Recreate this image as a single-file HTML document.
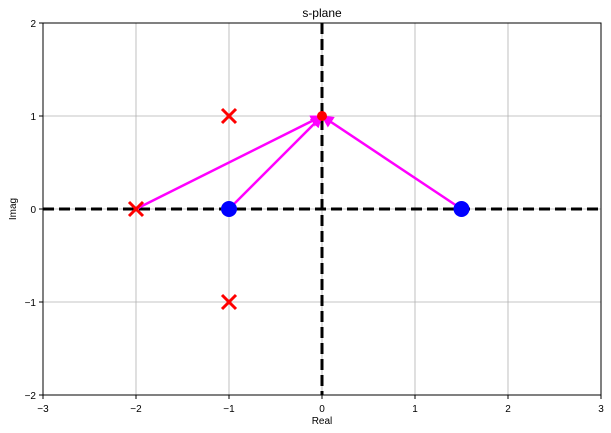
<!DOCTYPE html>
<html><head><meta charset="utf-8"><style>
body{margin:0;background:#fff;}
svg{display:block;font-family:"Liberation Sans",sans-serif;}
</style></head><body>
<svg id="c" width="611" height="433" xmlns="http://www.w3.org/2000/svg">
<defs><marker id="ah" viewBox="0 0 10 10" refX="9" refY="5" markerWidth="5" markerHeight="5" orient="auto"><path d="M0,0 L10,5 L0,10 z" fill="#ff00ff"/></marker></defs>
<g id="grid"></g>
<g id="plot"></g>
<g id="axes"></g>
</svg>
<script>
const xTicks=[-3,-2,-1,0,1,2,3];
const yTicks=[-2,-1,0,1,2];
const poleRe=[-1,-1,-2];
const poleIm=[1,-1,0];
const zeroRe=[-1,1.5];
const zeroIm=[0,0];
const testRe=[0];
const testIm=[1];
const L=43,R=601,T=23,B=395;
const sx=v=>L+(v+3)/6*(R-L);
const sy=v=>B-(v+2)/4*(B-T);
const fmt=v=>String(v).replace('-','\u2212');
const NS="http://www.w3.org/2000/svg";
function mk(p,t,a){const e=document.createElementNS(NS,t);for(const k in a)e.setAttribute(k,a[k]);p.appendChild(e);return e;}
const grid=document.getElementById('grid'),plot=document.getElementById('plot'),axes=document.getElementById('axes');
xTicks.forEach(v=>{const l=mk(grid,'line',{x1:sx(v),x2:sx(v),y1:T,y2:B,stroke:'#b0b0b0','stroke-width':0.8});

mk(axes,'line',{x1:sx(v),x2:sx(v),y1:B,y2:B+4,stroke:'#000'});
const t=mk(axes,'text',{x:sx(v),y:B+17,'text-anchor':'middle','font-size':10});t.textContent=fmt(v);
});
yTicks.forEach(v=>{const l=mk(grid,'line',{x1:L,x2:R,y1:sy(v),y2:sy(v),stroke:'#b0b0b0','stroke-width':0.8});

mk(axes,'line',{x1:L-4,x2:L,y1:sy(v),y2:sy(v),stroke:'#000'});
const t=mk(axes,'text',{x:L-7,y:sy(v)+4,'text-anchor':'end','font-size':10});t.textContent=fmt(v);
});
let a=mk(plot,'line',{x1:L,x2:R,y1:sy(0),y2:sy(0),stroke:'#000','stroke-width':3,'stroke-dasharray':'11,5'});

a=mk(plot,'line',{x1:sx(0),x2:sx(0),y1:T,y2:B,stroke:'#000','stroke-width':3,'stroke-dasharray':'11,5'});

const vecRe=[-2,-1,1.5],vecIm=[0,0,0];
vecRe.forEach((r,i)=>{const l=mk(plot,'line',{x1:sx(r),y1:sy(vecIm[i]),x2:sx(testRe[0]),y2:sy(testIm[0]),stroke:'#ff00ff','stroke-width':2.5,'marker-end':'url(#ah)'});
});
zeroRe.forEach((r,i)=>{const c=mk(plot,'circle',{cx:sx(r),cy:sy(zeroIm[i]),r:8,fill:'#0000ff'});
});
poleRe.forEach((r,i)=>{const x=sx(r),y=sy(poleIm[i]),d=7;
const p=mk(plot,'path',{d:`M${x-d},${y-d}L${x+d},${y+d}M${x-d},${y+d}L${x+d},${y-d}`,stroke:'#ff0000','stroke-width':3});
});
const tp=mk(plot,'circle',{cx:sx(testRe[0]),cy:sy(testIm[0]),r:5,fill:'#ff0000'});

const fr=mk(axes,'rect',{x:L,y:T,width:R-L,height:B-T,fill:'none',stroke:'#000','stroke-width':1});

let t=mk(axes,'text',{x:(L+R)/2,y:17,'text-anchor':'middle','font-size':12});t.textContent='s-plane';

t=mk(axes,'text',{x:(L+R)/2,y:424,'text-anchor':'middle','font-size':10});t.textContent='Real';

t=mk(axes,'text',{x:16,y:(T+B)/2,'text-anchor':'middle','font-size':10,transform:`rotate(-90 16 ${(T+B)/2})`});t.textContent='Imag';

</script>
</body></html>
